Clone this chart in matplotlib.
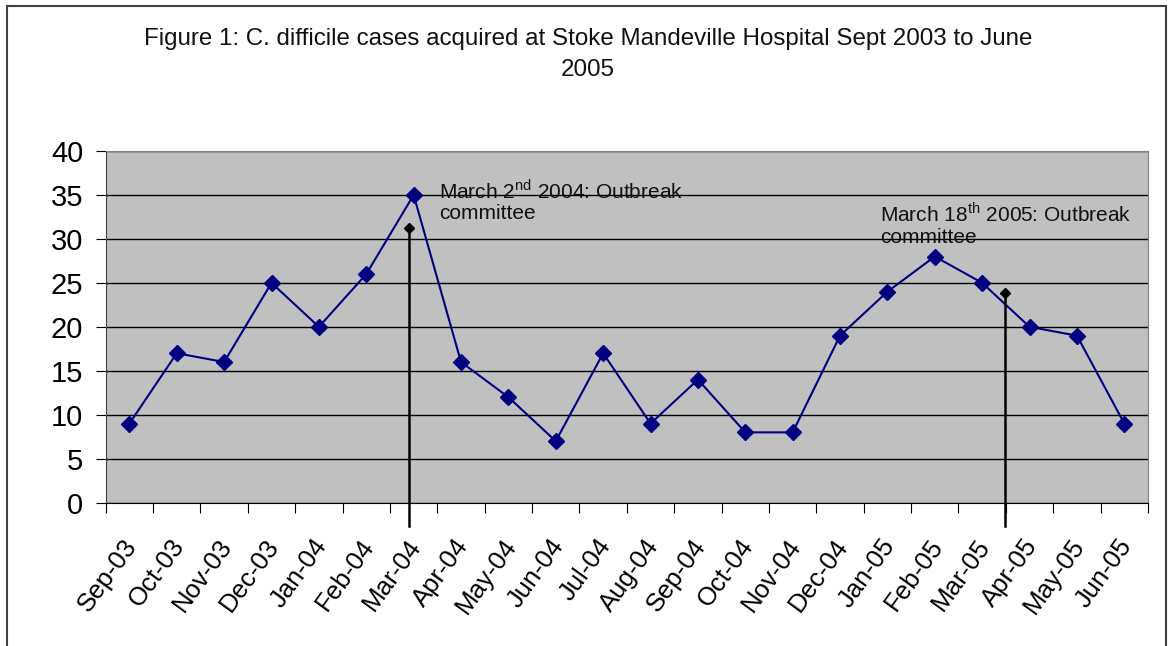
import matplotlib
matplotlib.use("Agg")
from matplotlib import pyplot as plt
from matplotlib.patches import Rectangle
import matplotlib.transforms as mtransforms

plt.rcParams['font.family'] = ['Liberation Sans', 'DejaVu Sans']
plt.rcParams['mathtext.fontset'] = 'custom'
plt.rcParams['mathtext.rm'] = 'Liberation Sans'

months = ['Sep-03', 'Oct-03', 'Nov-03', 'Dec-03', 'Jan-04', 'Feb-04', 'Mar-04', 'Apr-04',
          'May-04', 'Jun-04', 'Jul-04', 'Aug-04', 'Sep-04', 'Oct-04', 'Nov-04', 'Dec-04',
          'Jan-05', 'Feb-05', 'Mar-05', 'Apr-05', 'May-05', 'Jun-05']
cases = [9, 17, 16, 25, 20, 26, 35, 16, 12, 7, 17, 9, 14, 8, 8, 19, 24, 28, 25, 20, 19, 9]

# outbreak committee markers (x position in category units, height)
event_x = [5.91, 18.49]
event_y = [31.2, 23.9]
event_text = ['March 2$^{\\mathrm{nd}}$ 2004: Outbreak\ncommittee',
              'March 18$^{\\mathrm{th}}$ 2005: Outbreak\ncommittee']
text_pos = [(6.53, 36.9), (15.84, 34.2)]

fig = plt.figure(figsize=(11.68, 6.46), dpi=100)
ax = fig.add_axes([105.7 / 1168, 1 - 502.7 / 646, (1148 - 105.7) / 1168, (502.7 - 151) / 646])

# border round the whole chart
fig.patches.append(Rectangle((7 / 1168, -0.1), (1166 - 7) / 1168, 1.1 - 6 / 646,
                             transform=fig.transFigure, fill=False, edgecolor='#404040', lw=1.5))

ax.set_facecolor('#C0C0C0')
x = list(range(len(months)))
ax.plot(x, cases, color='#000080', lw=1.5, marker='D', markersize=8, zorder=3)

for ex, ey in zip(event_x, event_y):
    ax.plot([ex, ex], [-2.7, ey], color='black', lw=1.8, clip_on=False, zorder=4)
    ax.plot([ex], [ey], marker='D', color='black', markersize=5.5, zorder=4)

for t, (tx, ty) in zip(event_text, text_pos):
    ax.text(tx, ty, t, fontsize=15, va='top', ha='left', linespacing=1.12, color='#111111')

ax.set_xlim(-0.5, len(months) - 0.5)
ax.set_ylim(0, 40)
ax.set_yticks(range(0, 41, 5))
ax.yaxis.grid(True, color='black', lw=1)
ax.set_axisbelow(True)
ax.tick_params(axis='y', labelsize=21, length=7.2, pad=9, direction='out', color='black')

ax.set_xticks([i - 0.5 for i in range(len(months) + 1)])
ax.set_xticklabels([])
ax.set_xticks(x, minor=True)
ax.set_xticklabels(months, minor=True, rotation=54, ha='right', va='center',
                   rotation_mode='anchor', fontsize=18.5)
ax.tick_params(axis='x', which='major', length=7, color='black')
ax.tick_params(axis='x', which='minor', length=0, pad=28)
shift = mtransforms.ScaledTranslation(3 / 100, 0, fig.dpi_scale_trans)
for lab in ax.get_xticklabels(minor=True):
    lab.set_transform(lab.get_transform() + shift)

ax.spines['left'].set_color('#404040')
ax.spines['bottom'].set_color('black')
ax.spines['top'].set_color('#808080')
ax.spines['right'].set_color('#808080')

fig.text(588 / 1168, 1 - 39 / 646,
         'Figure 1: C. difficile cases acquired at Stoke Mandeville Hospital Sept 2003 to June',
         ha='center', va='center', fontsize=17.4, color='#111111')
fig.text(588 / 1168, 1 - 70 / 646, '2005', ha='center', va='center', fontsize=17.4, color='#111111')

fig.savefig('out.png', dpi=100)
